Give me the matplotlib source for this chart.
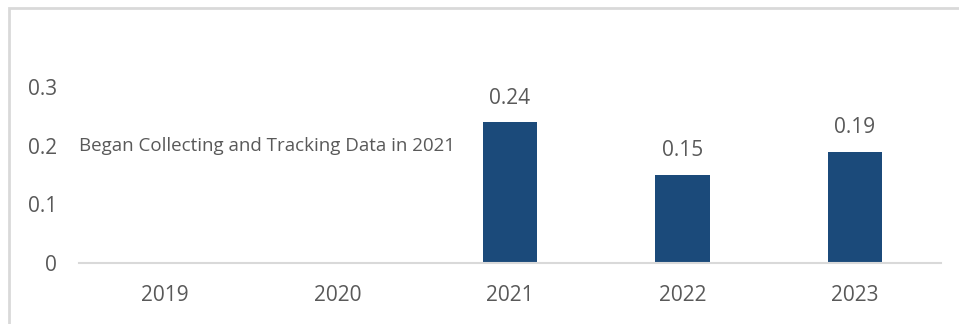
import matplotlib
matplotlib.use("Agg")
import matplotlib.pyplot as plt
from matplotlib.patches import Rectangle

years = ["2019", "2020", "2021", "2022", "2023"]
values = [None, None, 0.24, 0.15, 0.19]
y_ticks = [0, 0.1, 0.2, 0.3]
y_tick_labels = ["0", "0.1", "0.2", "0.3"]
note = "Began Collecting and Tracking Data in 2021"

plt.rcParams["font.family"] = ["Open Sans", "DejaVu Sans"]
text_color = "#595959"
bar_color = "#1B4A7A"
line_color = "#D9D9D9"

W, H = 959, 324
fig = plt.figure(figsize=(W / 100, H / 100), dpi=100)

# chart frame (only top and left edges fall inside the canvas)
fig.patches.append(Rectangle((9 / W, -0.1), 1.2, (H - 8) / H + 0.1,
                             transform=fig.transFigure, fill=False,
                             edgecolor=line_color, linewidth=2))

left, right = 79, 941
bottom_px, top_px = 263, 58
ax = fig.add_axes([left / W, 1 - bottom_px / H, (right - left) / W,
                   (bottom_px - top_px) / H])

xs = list(range(len(years)))
bx = [x for x, v in zip(xs, values) if v is not None]
bv = [v for v in values if v is not None]
ax.bar(bx, bv, width=0.315, color=bar_color, zorder=2)
for x, v in zip(bx, bv):
    ax.annotate(f"{v:.2f}", (x, v), xytext=(0, 10), textcoords="offset points",
                ha="center", va="bottom", fontsize=15, color=text_color)

ax.set_xlim(-0.5, len(years) - 0.5)
ax.set_ylim(0, 0.35)
ax.set_xticks(xs)
ax.set_xticklabels(years)
ax.set_yticks(y_ticks)
ax.set_yticklabels(y_tick_labels)
ax.tick_params(axis="both", length=0, labelsize=15, labelcolor=text_color)
ax.tick_params(axis="x", pad=16)
ax.tick_params(axis="y", pad=16)
for s in ["top", "right", "left"]:
    ax.spines[s].set_visible(False)
ax.spines["bottom"].set_color(line_color)
ax.spines["bottom"].set_linewidth(1.5)

ax.text(-0.5, 0.2, note, ha="left", va="center", fontsize=13.5, color=text_color)

fig.savefig("out.png", dpi=100)
